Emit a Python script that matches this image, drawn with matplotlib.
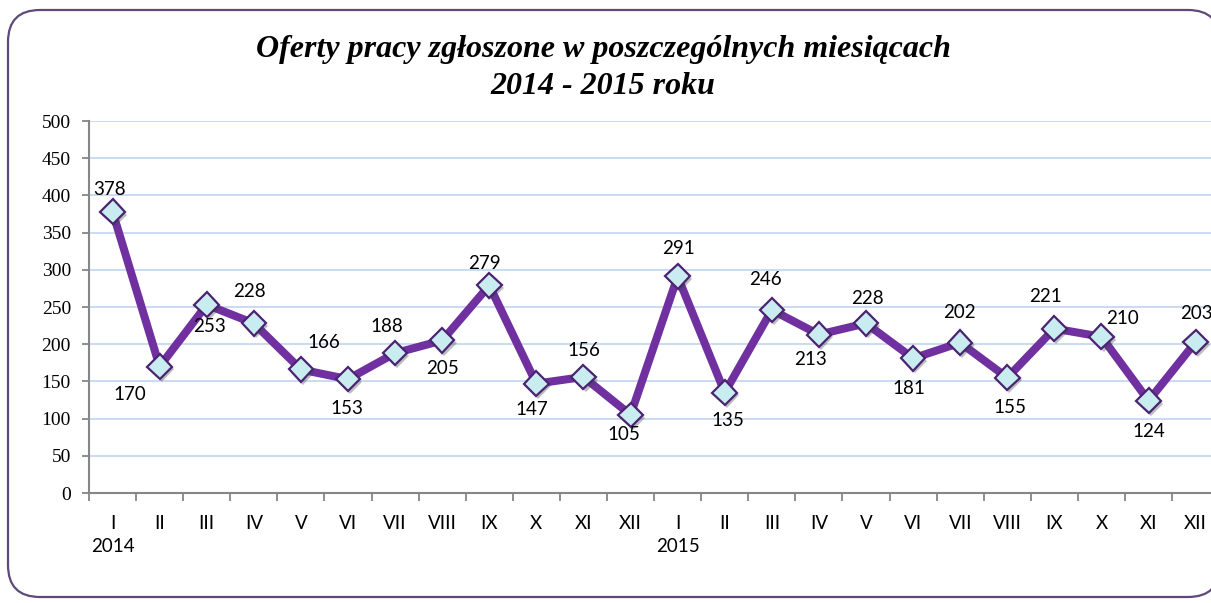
import matplotlib
matplotlib.use("Agg")
import matplotlib.pyplot as plt
import matplotlib.patheffects as pe
from matplotlib.patches import FancyBboxPatch

# data
months = ["I", "II", "III", "IV", "V", "VI", "VII", "VIII", "IX", "X", "XI", "XII"]
years = ["2014", "2015"]
offers_2014 = [378, 170, 253, 228, 166, 153, 188, 205, 279, 147, 156, 105]
offers_2015 = [291, 135, 246, 213, 228, 181, 202, 155, 221, 210, 124, 203]
y_ticks = [0, 50, 100, 150, 200, 250, 300, 350, 400, 450, 500]

# label offsets (pixels, dx / dy up) - Excel placed them by hand
label_offsets = [(-3, 22), (-30, -28), (3, -22), (-4, 32), (23, 27), (-1, -29),
                 (-8, 27), (0, -28), (-5, 22), (-5, -26), (0, 26), (-7, -20),
                 (1, 28), (3, -28), (-6, 30), (-8, -25), (1, 25), (-4, -30),
                 (-1, 30), (3, -30), (-9, 32), (21, 18), (0, -31), (1, 28)]

values = offers_2014 + offers_2015
labels = []
for y in years:
    for j, m in enumerate(months):
        labels.append(m + "\n" + y if j == 0 else m + "\n")
x = list(range(len(values)))

LINE_COLOR = "#7030A0"
GRID_COLOR = "#C6D9F1"
AXIS_COLOR = "#868686"
FRAME_COLOR = "#5F497A"
SANS = ["Lato", "DejaVu Sans"]
SERIF = ["Liberation Serif", "DejaVu Serif"]

W, H = 1211, 603
fig = plt.figure(figsize=(W / 100, H / 100), dpi=100)

# background axes in pixel units, just for the rounded frame
bg = fig.add_axes([0, 0, 1, 1], zorder=-1)
bg.set_xlim(0, W)
bg.set_ylim(H, 0)
bg.axis("off")
bg.add_patch(FancyBboxPatch((8, 10), 1212, 587, boxstyle="round,pad=0,rounding_size=32",
                            facecolor="white", edgecolor=FRAME_COLOR, linewidth=1.6))

ax = fig.add_axes([89 / W, 110 / H, 1130.2 / W, 372 / H])
ax.set_facecolor("none")

ax.plot(x, values, color=LINE_COLOR, linewidth=5.8, solid_joinstyle="miter", zorder=3)
ax.plot(x, values, linestyle="none", marker="D", markersize=12.5,
        markerfacecolor="#C8ECEF", markeredgecolor="#4B2370", markeredgewidth=1.6,
        zorder=4, path_effects=[pe.SimplePatchShadow(offset=(1.5, -2), alpha=0.35), pe.Normal()])

for xi, v, (dx, dy) in zip(x, values, label_offsets):
    ax.annotate(str(v), (xi, v), xytext=(dx, dy), textcoords="offset pixels",
                ha="center", va="center", fontsize=13.5, family=SANS, color="black",
                zorder=5, annotation_clip=False)

ax.set_xlim(-0.5, len(values) - 0.5)
ax.set_ylim(0, 500)
ax.set_yticks(y_ticks)
ax.set_yticklabels([str(t) for t in y_ticks], family=SERIF, fontsize=14)
ax.yaxis.grid(True, color=GRID_COLOR, linewidth=1.3)
ax.set_axisbelow(True)

ax.set_xticks(x)
ax.set_xticklabels(labels, family=SANS, fontsize=13.5, linespacing=1.4, va="top")
ax.set_xticks([i - 0.5 for i in range(len(values) + 1)], minor=True)
ax.tick_params(axis="x", which="major", length=0, pad=16)
ax.tick_params(axis="x", which="minor", length=6, width=1.3, color=AXIS_COLOR, direction="out")
ax.tick_params(axis="y", length=5, width=1.3, color=AXIS_COLOR, pad=8)

for side in ["top", "right"]:
    ax.spines[side].set_visible(False)
for side in ["left", "bottom"]:
    ax.spines[side].set_color(AXIS_COLOR)
    ax.spines[side].set_linewidth(1.5)

fig.text(603 / W, 1 - 50 / H, "Oferty pracy zgłoszone w poszczególnych miesiącach",
         ha="center", va="center", fontsize=23, fontweight="bold", style="italic", family=SERIF)
fig.text(603 / W, 1 - 87 / H, "2014 - 2015 roku",
         ha="center", va="center", fontsize=23, fontweight="bold", style="italic", family=SERIF)

fig.savefig("out.png", dpi=100)
